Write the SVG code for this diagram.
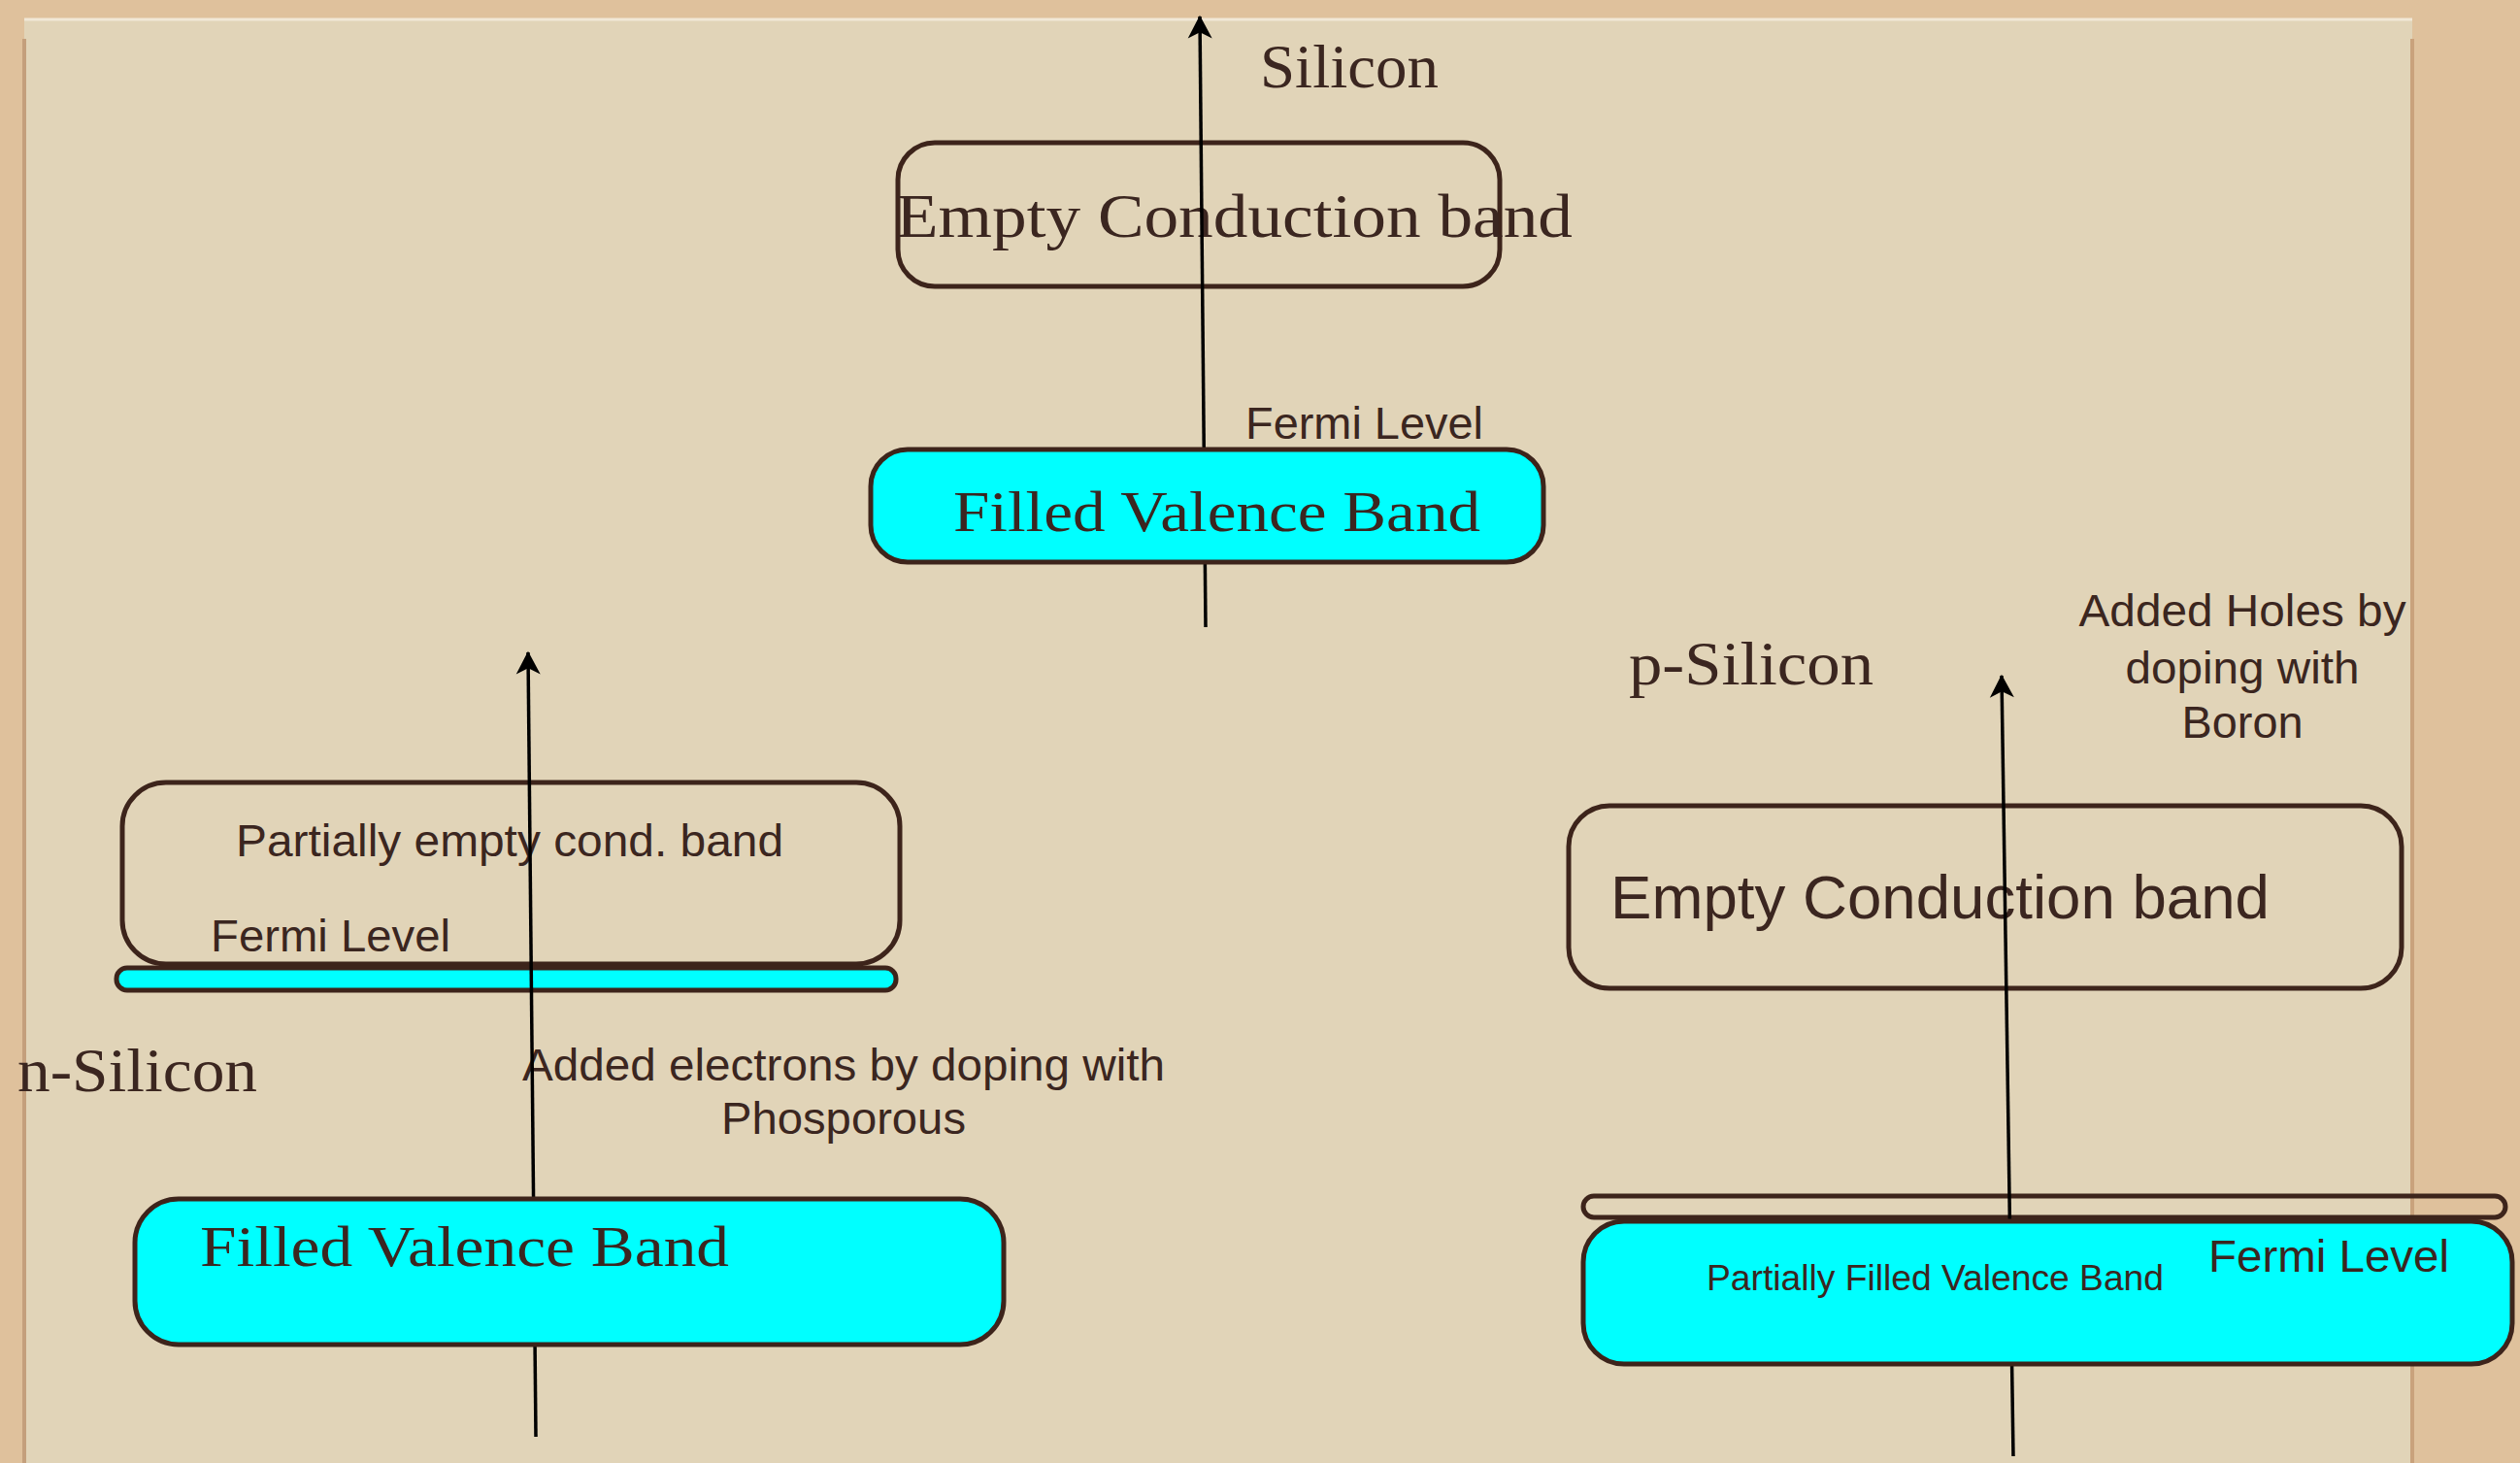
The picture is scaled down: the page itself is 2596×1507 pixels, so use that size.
<svg xmlns="http://www.w3.org/2000/svg" width="2596" height="1507" viewBox="0 0 2596 1507">
<style>
.box{fill:none;stroke:#3d241b;stroke-width:5}
.cyan{fill:#00ffff;stroke:#3d241b;stroke-width:5}
.pap{font-family:"Liberation Serif","DejaVu Serif",serif;fill:#3b2620}
.hel{font-family:"Liberation Sans",Arial,sans-serif;fill:#3b2620}
.arrow{stroke:#000;stroke-width:3.5;fill:none;marker-end:url(#head)}
</style>
<defs>
<marker id="head" markerUnits="userSpaceOnUse" markerWidth="30" markerHeight="30" refX="0" refY="0" viewBox="-20 -12 22 24" orient="auto">
<path d="M1,0 L-18,-10 L-13,0 L-18,10 Z" fill="#000"/>
</marker>
</defs>
<g id="background">
<rect x="0" y="0" width="2596" height="1507" fill="#dfc19c"/>
<rect x="25" y="20" width="2460" height="1490" fill="#e1d4b8"/>
<line x1="25" y1="20" x2="2485" y2="20" stroke="#f1e8d6" stroke-width="3"/>
<line x1="25" y1="40" x2="25" y2="1507" stroke="#c49f7c" stroke-width="4"/>
<line x1="2485" y1="40" x2="2485" y2="1507" stroke="#c9a27c" stroke-width="4"/>
</g>
<g id="silicon-label"><text class="pap" x="1298" y="90" font-size="63" textLength="184" lengthAdjust="spacingAndGlyphs">Silicon</text></g>
<g id="si-conduction">
<rect class="box" x="925" y="147" width="620" height="148" rx="38"/>
<text class="pap" x="923" y="244" font-size="63" textLength="697" lengthAdjust="spacingAndGlyphs">Empty Conduction band</text>
</g>
<g id="si-fermi"><text class="hel" x="1283" y="452" font-size="46" textLength="245" lengthAdjust="spacingAndGlyphs">Fermi Level</text></g>
<g id="n-label"><text class="pap" x="18" y="1124" font-size="63" textLength="247" lengthAdjust="spacingAndGlyphs">n-Silicon</text></g>
<g id="n-conduction">
<rect class="box" x="126" y="806" width="801" height="187" rx="45"/>
<text class="hel" x="243" y="882" font-size="47" textLength="564" lengthAdjust="spacingAndGlyphs">Partially empty cond. band</text>
<text class="hel" x="217" y="980" font-size="47" textLength="247" lengthAdjust="spacingAndGlyphs">Fermi Level</text>
</g>
<g id="n-fermi-bar"><rect class="cyan" x="120" y="997" width="803" height="23" rx="11"/></g>
<g id="n-note">
<text class="hel" x="869" y="1113" font-size="47" text-anchor="middle" textLength="662" lengthAdjust="spacingAndGlyphs">Added electrons by doping with</text>
<text class="hel" x="869" y="1168" font-size="47" text-anchor="middle" textLength="252" lengthAdjust="spacingAndGlyphs">Phosporous</text>
</g>
<g id="p-label"><text class="pap" x="1678" y="705" font-size="63" textLength="252" lengthAdjust="spacingAndGlyphs">p-Silicon</text></g>
<g id="p-note">
<text class="hel" x="2310" y="645" font-size="47" text-anchor="middle" textLength="337" lengthAdjust="spacingAndGlyphs">Added Holes by</text>
<text class="hel" x="2310" y="704" font-size="47" text-anchor="middle" textLength="241" lengthAdjust="spacingAndGlyphs">doping with</text>
<text class="hel" x="2310" y="760" font-size="47" text-anchor="middle" textLength="125" lengthAdjust="spacingAndGlyphs">Boron</text>
</g>
<g id="p-conduction">
<rect class="box" x="1616" y="830" width="858" height="188" rx="42"/>
<text class="hel" x="1659" y="946" font-size="63" textLength="679" lengthAdjust="spacingAndGlyphs">Empty Conduction band</text>
</g>
<g id="p-fermi-bar"><rect class="box" x="1631" y="1232" width="950" height="22" rx="11"/></g>
<g id="connectors">
<line class="arrow" x1="1242" y1="646" x2="1236" y2="17"/>
<line class="arrow" x1="552" y1="1480" x2="544" y2="672"/>
<line class="arrow" x1="2074" y1="1500" x2="2062" y2="696"/>
</g>
<g id="si-valence">
<rect class="cyan" x="897" y="463" width="693" height="116" rx="38"/>
<text class="pap" x="982" y="547" font-size="60" textLength="543" lengthAdjust="spacingAndGlyphs">Filled Valence Band</text>
</g>
<g id="n-valence">
<rect class="cyan" x="139" y="1235" width="895" height="150" rx="45"/>
<text class="pap" x="206" y="1304" font-size="60" textLength="545" lengthAdjust="spacingAndGlyphs">Filled Valence Band</text>
</g>
<g id="p-valence">
<rect class="cyan" x="1631" y="1258" width="957" height="147" rx="42"/>
<text class="hel" x="1758" y="1329" font-size="37" textLength="471" lengthAdjust="spacingAndGlyphs">Partially Filled Valence Band</text>
<text class="hel" x="2275" y="1310" font-size="47" textLength="248" lengthAdjust="spacingAndGlyphs">Fermi Level</text>
</g>
</svg>
